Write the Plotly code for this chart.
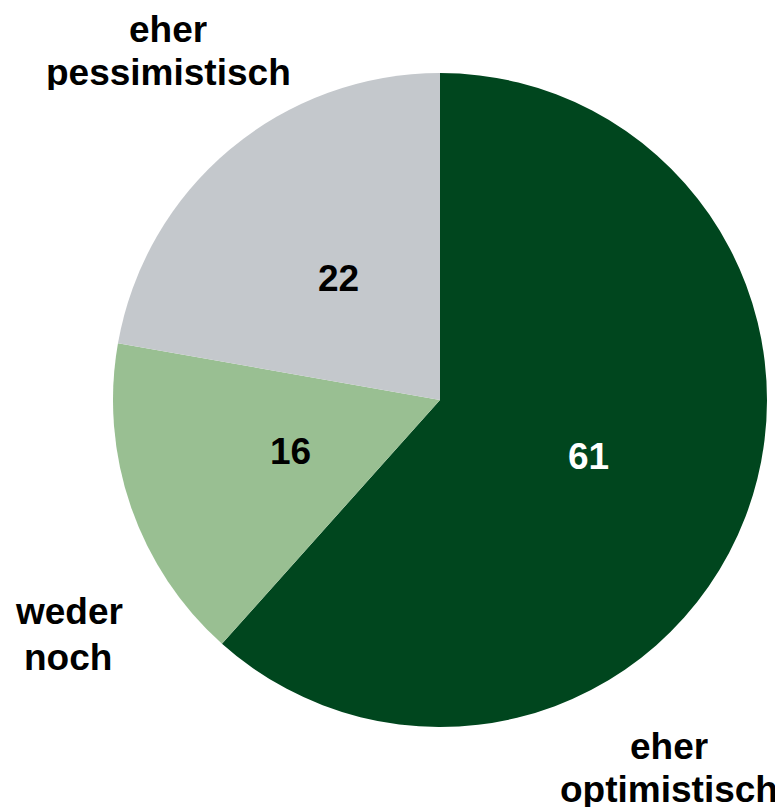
import math
import plotly.graph_objects as go

categories = ["eher optimistisch", "weder noch", "eher pessimistisch"]
values = [61, 16, 22]
colors = ["#00461E", "#99BF92", "#C4C8CC"]
text_colors = ["white", "black", "black"]
label_lines = [["eher", "optimistisch"], ["weder", "noch"], ["eher", "pessimistisch"]]

# figure is placed 8px into the page by the body margin
W, H = 775, 803
cx, cy, r = 432, 392, 327
FONT = "Liberation Sans, Arial, sans-serif"

fig = go.Figure(go.Pie(
    labels=categories,
    values=values,
    sort=False,
    direction="clockwise",
    rotation=0,
    marker=dict(colors=colors, line=dict(width=0)),
    textinfo="none",
    hoverinfo="label+value",
    showlegend=False,
    domain=dict(x=[(cx - r) / W, (cx + r) / W], y=[1 - (cy + r) / H, 1 - (cy - r) / H]),
))

# value labels placed on each slice's bisector
total = sum(values)
cum = 0
for v, tc in zip(values, text_colors):
    mid = (cum + v / 2) / total * 2 * math.pi
    cum += v
    px = cx + 0.485 * r * math.sin(mid)
    py = cy - 0.485 * r * math.cos(mid)
    fig.add_annotation(
        text=str(v), x=px / W, y=1 - py / H, xref="paper", yref="paper",
        xanchor="center", yanchor="middle", showarrow=False,
        font=dict(family=FONT, size=37, color=tc, weight="bold"),
    )

# category labels, one annotation per line (box height kept to the glyphs)
label_pos = [[(661, 737), (661, 780)], [(61, 602), (60, 648)], [(160, 20), (160, 63)]]
for lines, positions in zip(label_lines, label_pos):
    for line, (x, y) in zip(lines, positions):
        fig.add_annotation(
            text=line, x=x / W, y=1 - (y - 19) / H, xref="paper", yref="paper",
            xanchor="center", yanchor="top", height=36, valign="middle",
            showarrow=False,
            font=dict(family=FONT, size=37, color="black", weight="bold"),
        )

fig.update_layout(
    width=W, height=H,
    margin=dict(l=0, r=0, t=0, b=0),
    paper_bgcolor="white", plot_bgcolor="white",
)

fig.write_html("out.html")
